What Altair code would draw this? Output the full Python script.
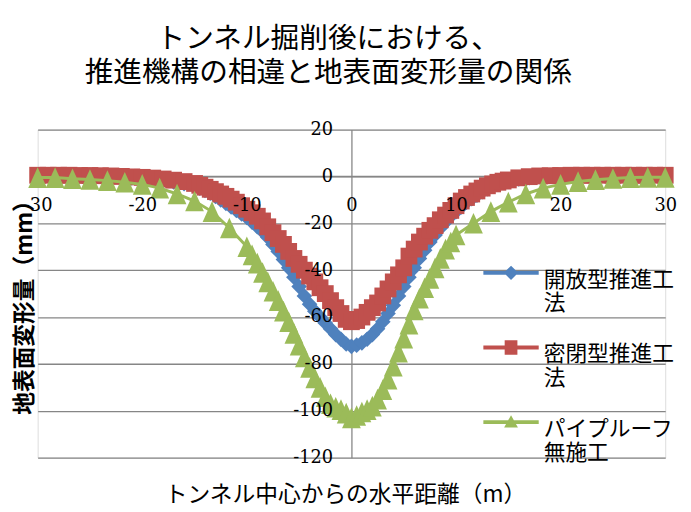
import altair as alt
import pandas as pd

# ---------------- data ----------------
series_names = ["開放型推進工法", "密閉型推進工法", "パイプルーフ無施工"]
series_colors = ["#4F81BD", "#C0504D", "#9BBB59"]

# blue / red share the same x positions
x_rb = [-30, -29, -28, -27, -26, -25, -24, -23, -22, -21, -20, -19, -18, -17, -16,
        -15, -14.5, -14, -13.5, -13, -12.5, -12, -11.5, -11, -10.5,
        -10, -9.5, -9, -8.5, -8, -7.5, -7, -6.5, -6, -5.5,
        -5, -4.5, -4, -3.5, -3, -2.5, -2, -1.5, -1, -0.5,
        0, 0.5, 1, 1.5, 2, 2.5, 3, 3.5, 4, 4.5,
        5, 5.5, 6, 6.5, 7, 7.5, 8, 8.5, 9, 9.5,
        10, 10.5, 11, 11.5, 12, 12.5, 13, 13.5, 14, 14.5, 15,
        16, 17, 18, 19, 20, 21, 22, 23, 24, 25, 26, 27, 28, 29, 30]
y_blue = [0.5, 0.5, 0.5, 0.4, 0.3, 0.2, 0.1, -0.1, -0.3, -0.6, -0.9, -1.3, -1.8, -2.4, -3.1,
          -4, -5, -6, -7.2, -8.5, -10, -11.5, -13, -14.5, -16,
          -17.5, -19.5, -21.5, -23.5, -26, -29, -32, -35.5, -39, -43,
          -47, -51, -54.5, -57.5, -60, -62.5, -65, -67.5, -69.5, -71.5,
          -72.5, -72, -71, -69.5, -67.5, -65, -62, -58.5, -55, -51,
          -47, -43, -39, -35, -31.5, -28, -25, -22, -19.5, -17,
          -15, -13, -11, -9.5, -8, -6.5, -5.2, -4.2, -3.3, -2.6, -2,
          -1.1, -0.5, -0.1, 0.1, 0.3, 0.5, 0.5, 0.5, 0.5, 0.5, 0.5, 0.5, 0.5, 0.5, 0.5]
y_red = [0.5, 0.5, 0.5, 0.5, 0.4, 0.4, 0.3, 0.2, 0, -0.2, -0.4, -0.7, -1.1, -1.6, -2.2,
         -3, -3.8, -4.6, -5.5, -6.5, -7.5, -8.5, -9.7, -11, -12.5,
         -14, -15.5, -17, -19, -21.5, -24, -26.5, -29, -32, -35,
         -37.5, -40, -42.5, -45, -47.5, -50, -53, -56, -58.5, -61,
         -62, -61.5, -60, -58, -56, -54, -51, -48, -45, -42,
         -39, -34, -31, -28, -25.5, -23, -21, -18.5, -16.5, -14.5,
         -12.5, -10.5, -9, -7.5, -6.2, -5, -4, -3.2, -2.5, -2, -1.5,
         -0.6, -0.1, 0.2, 0.3, 0.4, 0.5, 0.5, 0.5, 0.5, 0.5, 0.5, 0.5, 0.5, 0.5, 0.5]

x_green = [-30, -28.33, -26.67, -25, -23.33, -21.67, -20, -18.33, -16.67, -15, -13.33, -11.67,
           -10, -9.5, -9, -8.5, -8, -7.5, -7, -6.5, -6, -5.5,
           -5, -4.5, -4, -3.5, -3, -2.5, -2, -1.5, -1, -0.5,
           0, 0.5, 1, 1.5, 2, 2.5, 3, 3.5, 4, 4.5,
           5, 5.5, 6, 6.5, 7, 7.5, 8, 8.5, 9, 9.5, 10,
           11.67, 13.33, 15, 16.67, 18.33, 20, 21.67, 23.33, 25, 26.67, 28.33, 30]
y_green = [-0.5, -0.5, -1, -1.3, -1.8, -2.5, -3.4, -5, -7.5, -10.5, -15, -22,
           -30, -33.5, -37, -41, -45, -49, -53, -57.5, -62, -67,
           -72, -77, -81.5, -86, -90, -94, -97, -98.5, -99.5, -101,
           -103, -102, -100.5, -99.5, -98, -95, -91, -86.5, -81, -75,
           -69, -63, -57, -52, -47.5, -43.5, -39, -35, -31, -28, -25,
           -20, -15, -11, -7.5, -5, -3.4, -2.2, -1.4, -0.9, -0.5, -0.4, -0.4]

x_ticks = [-30, -20, -10, 0, 10, 20, 30]
y_ticks = [-120, -100, -80, -60, -40, -20, 0, 20]

title_lines = ["トンネル掘削後における、", "推進機構の相違と地表面変形量の関係"]
x_title = "トンネル中心からの水平距離（m）"
y_title = "地表面変形量（mm）"

rows = []
for name, xs, ys in [(series_names[0], x_rb, y_blue),
                     (series_names[1], x_rb, y_red),
                     (series_names[2], x_green, y_green)]:
    for xv, yv in zip(xs, ys):
        rows.append({"series": name, "x": xv, "y": yv})
df = pd.DataFrame(rows)

# ---------------- layout ----------------
W, H = 635, 332
y0_px = H * 20 / 140          # pixel of y=0 from top of plot
x0_px = W * 30 / 60           # pixel of x=0 from left of plot

x_scale = alt.Scale(domain=[-30, 30], nice=False, zero=False)
y_scale = alt.Scale(domain=[-120, 20], nice=False, zero=False)
color_scale = alt.Scale(domain=series_names, range=series_colors)

GRID = "#868686"
NUM_FONT = "DejaVu Serif"
JP_FONT = "Noto Sans CJK JP"

# base axes: lines and grid only, behind the marks
x_axis_base = alt.Axis(orient="bottom", values=x_ticks, grid=False, labels=False, ticks=False,
                       tickSize=0, domain=True, domainColor=GRID, domainWidth=1.3,
                       offset=-(H - y0_px), title=None, zindex=0)
y_axis_base = alt.Axis(orient="left", values=y_ticks, grid=True, gridColor=GRID, gridWidth=1.3,
                       labels=False, ticks=False, tickSize=0, domain=True, domainColor=GRID,
                       domainWidth=1.3, offset=-x0_px, title=None, zindex=0)

# label axes: drawn on top of the marks
x_axis_lab = alt.Axis(orient="bottom", values=x_ticks, grid=False, domain=False, ticks=False,
                      tickSize=0, labelPadding=20, labelFlush=False, labelOverlap=False,
                      labelExpr="'' + datum.value",
                      labelFont=NUM_FONT, labelFontSize=18, labelColor="black",
                      offset=-(H - y0_px), zindex=1,
                      title=x_title, titleFont=JP_FONT, titleFontSize=23, titleFontWeight="normal",
                      titleColor="black", titleX=311, titleY=369 - y0_px,
                      titleBaseline="middle", titleAlign="center")
y_axis_lab = alt.Axis(orient="left", values=y_ticks, grid=False, domain=False, ticks=False,
                      tickSize=0, labelPadding=19, labelFlush=False, labelOverlap=False,
                      labelExpr="'' + datum.value",
                      labelFont=NUM_FONT, labelFontSize=18, labelColor="black",
                      offset=-x0_px, zindex=1,
                      title=y_title, titleFont=JP_FONT, titleFontSize=23, titleFontWeight="bold",
                      titleColor="black", titleX=(25 - 38) - x0_px, titleY=174,
                      titleAngle=270, titleBaseline="middle", titleAlign="center")

base = alt.Chart(df)


def enc_x(axis):
    return alt.X("x:Q", scale=x_scale, axis=axis)


def enc_y(axis):
    return alt.Y("y:Q", scale=y_scale, axis=axis)


shapes = ["diamond", "square", "M0,-1.1L1,1.1H-1Z"]
sizes = [250, 289, 361]

layers = []
for i, name in enumerate(series_names):
    sub = base.transform_filter(alt.datum.series == name)
    first = i == 0
    last = i == len(series_names) - 1
    line = sub.mark_line(strokeWidth=3, color=series_colors[i]).encode(
        x=enc_x(x_axis_base if first else None),
        y=enc_y(y_axis_base if first else None),
    )
    pts = sub.mark_point(shape=shapes[i], filled=True, size=sizes[i], opacity=1,
                         strokeWidth=0, color=series_colors[i]).encode(
        x=enc_x(x_axis_lab if last else None),
        y=enc_y(y_axis_lab if last else None),
    )
    layers += [line, pts]

# legend: line + marker symbols (shifted up so they sit on the first text line)
lw = 0.07
d = -0.25


def p(v):
    return f"{v + d:.3f}"


legend_paths = [
    f"M-1,{p(-lw)}H1V{p(lw)}H-1Z M0,{p(-0.26)}L0.26,{p(0)}L0,{p(0.26)}L-0.26,{p(0)}Z",
    f"M-1,{p(-lw)}H1V{p(lw)}H-1Z M-0.23,{p(-0.26)}H0.23V{p(0.26)}H-0.23Z",
    f"M-1,{p(-lw)}H1V{p(lw)}H-1Z M0,{p(-0.25)}L0.25,{p(0.2)}H-0.25Z",
]
leg = alt.Legend(orient="none", legendX=451, legendY=124, title=None,
                 symbolSize=3136, symbolStrokeWidth=0, symbolOpacity=1,
                 labelFont=JP_FONT, labelFontSize=22, labelColor="black", labelLimit=400,
                 labelOffset=5, labelBaseline="middle", rowPadding=12.5, padding=0,
                 labelExpr="[substring(datum.label, 0, 6), substring(datum.label, 6)]")
# invisible layer that only carries the legend
dummy = base.mark_point(filled=True, opacity=0).encode(
    x=enc_x(None),
    y=enc_y(None),
    color=alt.Color("series:N", scale=color_scale, legend=leg),
    shape=alt.Shape("series:N", scale=alt.Scale(domain=series_names, range=legend_paths),
                    legend=leg),
)
layers.append(dummy)

chart = alt.layer(*layers).resolve_axis(x="independent", y="independent").properties(
    width=W, height=H,
    padding={"left": 30, "top": 120, "right": 18, "bottom": 52},
    autosize=alt.AutoSizeParams(type="none"),
    title=alt.TitleParams(text=title_lines, font=JP_FONT, fontSize=29, fontWeight="normal",
                          color="black", anchor="middle", frame="group", dx=-23.5,
                          offset=4, lineHeight=35, baseline="bottom"),
).configure_view(stroke=None).configure(background="white")

chart.save("out.html", embed_options={"renderer": "svg", "actions": False})
